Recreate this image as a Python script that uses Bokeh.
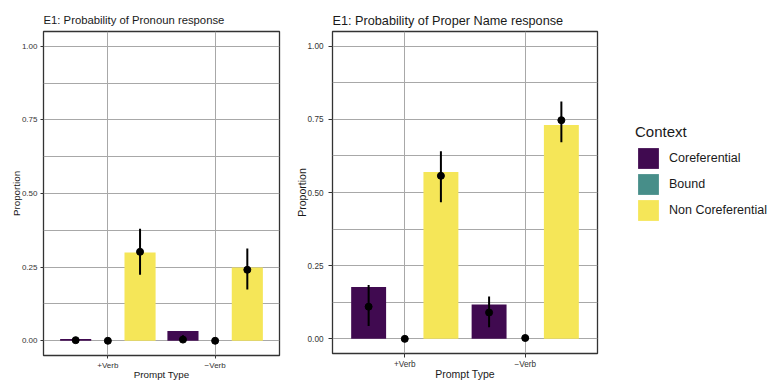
import numpy as np
from bokeh.plotting import figure
from bokeh.models import Range1d, FixedTicker, Legend, LegendItem, NumeralTickFormatter
from bokeh.layouts import row
from bokeh.embed import file_html
from bokeh.resources import INLINE

# ---------------- data ----------------
prompt_types = ["+Verb", "\u2212Verb"]
contexts = ["Coreferential", "Bound", "Non Coreferential"]

# Pronoun response (values at +Verb, -Verb)
pron_bar_coref = [0.006, 0.033]
pron_bar_bound = [0.0, 0.0]
pron_bar_noncoref = [0.300, 0.249]
pron_mean_coref = [0.002, 0.004]
pron_mean_bound = [0.0, 0.0]
pron_mean_noncoref = [0.302, 0.241]
pron_lo_coref = [0.0, 0.0]
pron_lo_bound = [0.0, 0.0]
pron_lo_noncoref = [0.224, 0.174]
pron_hi_coref = [0.005, 0.019]
pron_hi_bound = [0.0, 0.0]
pron_hi_noncoref = [0.380, 0.313]

# Proper Name response
prop_bar_coref = [0.177, 0.117]
prop_bar_bound = [0.0, 0.0]
prop_bar_noncoref = [0.570, 0.731]
prop_mean_coref = [0.110, 0.090]
prop_mean_bound = [0.0, 0.003]
prop_mean_noncoref = [0.557, 0.747]
prop_lo_coref = [0.044, 0.040]
prop_lo_bound = [0.0, 0.0]
prop_lo_noncoref = [0.467, 0.672]
prop_hi_coref = [0.184, 0.145]
prop_hi_bound = [0.0, 0.0]
prop_hi_noncoref = [0.641, 0.811]

y_ticks = [0.0, 0.25, 0.5, 0.75, 1.0]
y_minor = [0.125, 0.375, 0.625, 0.875]

# ---------------- styling ----------------
FONT = "Liberation Sans"
colors = ["#400A50", "#478E89", "#F5E658"]
dodge = [-0.3, 0.0, 0.3]
bar_w = 0.29
GRID = "#a8a8a8"
xpos = np.arange(1, len(prompt_types) + 1)


def make_panel(title, bars, means, los, his, fw, fh, left, right, top,
               title_size, title_standoff, lab_size, tick_size, tick_len, ylab_standoff):
    p = figure(frame_width=fw, frame_height=fh, output_backend="svg", toolbar_location=None,
               x_range=Range1d(0.4, 2.6), y_range=Range1d(-0.05, 1.05),
               min_border_left=left, min_border_right=right, min_border_top=top,
               min_border_bottom=0)
    p.title.text = title
    p.title.text_font = FONT
    p.title.text_font_size = title_size
    p.title.text_font_style = "normal"
    p.title.align = "left"
    p.title.offset = 0
    p.title.standoff = title_standoff
    p.title.text_color = "#1a1a1a"

    p.outline_line_color = "#333333"
    p.outline_line_width = 1.3
    p.background_fill_color = "white"
    p.border_fill_color = "white"

    p.xaxis.ticker = FixedTicker(ticks=list(xpos))
    p.xaxis.major_label_overrides = {int(i): t for i, t in zip(xpos, prompt_types)}
    p.yaxis.ticker = FixedTicker(ticks=y_ticks, minor_ticks=y_minor)
    p.yaxis.formatter = NumeralTickFormatter(format="0.00")
    p.xgrid.ticker = FixedTicker(ticks=list(xpos))
    p.ygrid.ticker = FixedTicker(ticks=y_ticks, minor_ticks=y_minor)
    for g in (p.xgrid, p.ygrid):
        g.grid_line_color = GRID
        g.grid_line_width = 1
    p.ygrid.minor_grid_line_color = GRID
    p.ygrid.minor_grid_line_width = 1

    for ax in (p.xaxis, p.yaxis):
        ax.axis_line_color = None
        ax.major_tick_line_color = "#333333"
        ax.major_tick_out = tick_len
        ax.major_tick_in = 0
        ax.minor_tick_line_color = None
        ax.major_label_text_font = FONT
        ax.major_label_text_font_size = tick_size
        ax.major_label_text_color = "#333333"
        ax.axis_label_text_font = FONT
        ax.axis_label_text_font_size = lab_size
        ax.axis_label_text_font_style = "normal"
        ax.axis_label_text_color = "#1a1a1a"
        ax.axis_label_standoff = -4
        ax.major_label_standoff = 2
    p.yaxis.major_label_standoff = ylab_standoff
    p.yaxis.axis_label_standoff = -3
    p.xaxis.axis_label = "Prompt Type"
    p.yaxis.axis_label = "Proportion"

    rends = []
    for k in range(3):
        x = xpos + dodge[k]
        r = p.vbar(x=x, top=bars[k], bottom=0, width=bar_w, fill_color=colors[k], line_color=None)
        rends.append(r)
    for k in range(3):
        x = xpos + dodge[k]
        p.segment(x0=x, y0=los[k], x1=x, y1=his[k], line_color="black", line_width=2)
        p.scatter(x=x, y=means[k], size=7, fill_color="black", line_color="black")
    return p, rends


p1, r1 = make_panel("E1: Probability of Pronoun response",
                    [pron_bar_coref, pron_bar_bound, pron_bar_noncoref],
                    [pron_mean_coref, pron_mean_bound, pron_mean_noncoref],
                    [pron_lo_coref, pron_lo_bound, pron_lo_noncoref],
                    [pron_hi_coref, pron_hi_bound, pron_hi_noncoref],
                    fw=236, fh=324, left=43, right=11, top=29,
                    title_size="11.3px", title_standoff=11, lab_size="9.8px",
                    tick_size="8px", tick_len=3, ylab_standoff=2)

p2, r2 = make_panel("E1: Probability of Proper Name response",
                    [prop_bar_coref, prop_bar_bound, prop_bar_noncoref],
                    [prop_mean_coref, prop_mean_bound, prop_mean_noncoref],
                    [prop_lo_coref, prop_lo_bound, prop_lo_noncoref],
                    [prop_hi_coref, prop_hi_bound, prop_hi_noncoref],
                    fw=265, fh=322, left=42, right=5, top=31,
                    title_size="12.7px", title_standoff=7, lab_size="10.5px",
                    tick_size="8.2px", tick_len=4, ylab_standoff=5)

# legend panel (proxy renderers carry the data but are not drawn)
p3 = figure(width=166, height=375, output_backend="svg", toolbar_location=None,
            x_range=Range1d(0, 1), y_range=Range1d(0, 1),
            x_axis_location=None, y_axis_location=None, min_border=0)
p3.outline_line_color = None
p3.grid.visible = False
p3.border_fill_color = "white"
prop_bars = [prop_bar_coref, prop_bar_bound, prop_bar_noncoref]
leg_rends = [p3.vbar(x=xpos + dodge[k], top=prop_bars[k], width=bar_w, fill_color=colors[k],
                     line_color=None, visible=False) for k in range(3)]

legend = Legend(items=[LegendItem(label=c, renderers=[r]) for c, r in zip(contexts, leg_rends)],
                location=(33, 123), click_policy="none")
legend.title = "Context"
legend.title_text_font = FONT
legend.title_text_font_size = "15px"
legend.title_text_font_style = "normal"
legend.title_text_color = "#1a1a1a"
legend.title_standoff = 5
legend.label_text_font = FONT
legend.label_text_font_size = "12.5px"
legend.label_text_color = "#1a1a1a"
legend.glyph_width = 26
legend.glyph_height = 26
legend.label_height = 26
legend.spacing = -2
legend.label_standoff = 8
legend.padding = 0
legend.margin = 0
legend.border_line_color = None
legend.background_fill_alpha = 0
legend.inactive_fill_alpha = 0
p3.add_layout(legend, "center")

layout = row(p1, p2, p3)
open("out.html", "w").write(file_html(layout, INLINE))
